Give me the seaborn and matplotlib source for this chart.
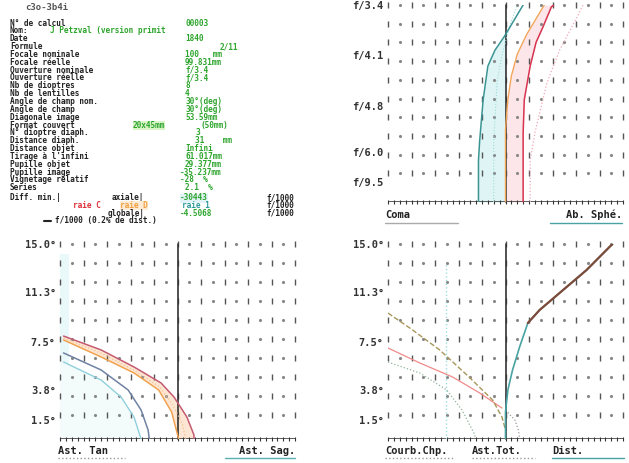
import numpy as np
import pandas as pd
import matplotlib
matplotlib.use("Agg")
import matplotlib.pyplot as plt
import seaborn as sns

sns.set_theme(style="white")
plt.rcParams['font.family'] = ['DejaVu Sans Mono', 'DejaVu Sans']
plt.rcParams['font.weight'] = 'bold'

# ------------------------------------------------------------------ data
title_code = "c3o-3b4i"
info_labels = ["N° de calcul", "Nom:", "Date", "Formule", "Focale nominale",
               "Focale réelle", "Ouverture nominale", "Ouverture réelle",
               "Nb de dioptres", "Nb de lentilles", "Angle de champ nom.",
               "Angle de champ", "Diagonale image", "Format couvert",
               "N° dioptre diaph.", "Distance diaph.", "Distance objet",
               "Tirage à l'infini", "Pupille objet", "Pupille image",
               "Vignetage relatif", "Series"]
info_values = ["00003", "J Petzval (version primit", "1840", "2/11",
               "100   mm", "99.831mm", "f/3.4", "f/3.4", "8", "4",
               "30°(deg)", "30°(deg)", "53.59mm", "20x45mm", "3",
               "31    mm", "Infini", "61.017mm", "29.377mm", "-35.237mm",
               "-28  %", "2.1  %"]
format_extra = "(50mm)"
diff_axiale = "-30443"
diff_globale = "-4.5068"
raies = ["raie C", "raie D", "raie 1"]
unit_label = "f/1000"
dist_note = "f/1000 (0.2% de dist.)"

coma_ticks = [1.0, 0.746, 0.487, 0.254, 0.10]
coma_ticklabels = ["f/3.4", "f/4.1", "f/4.8", "f/6.0", "f/9.5"]
field_ticks = [15.0, 11.3, 7.5, 3.8, 1.5]
field_ticklabels = ["15.0°", "11.3°", "7.5°", "3.8°", "1.5°"]

# coma / spherical panel (x: relative aberration, y: relative aperture)
coma_teal_x = [-0.23, -0.23, -0.22, -0.19, -0.15, -0.09, -0.01, 0.07, 0.15]
coma_teal_y = [0.0, 0.21, 0.31, 0.52, 0.69, 0.77, 0.84, 0.92, 1.0]
coma_cyan_x = [-0.10, -0.10, -0.09, -0.07, -0.02, 0.05, 0.10]
coma_cyan_y = [0.0, 0.30, 0.42, 0.62, 0.77, 0.92, 1.0]
sph_orange_x = [0.0, 0.0, 0.02, 0.05, 0.10, 0.18, 0.29, 0.33]
sph_orange_y = [0.0, 0.37, 0.52, 0.64, 0.75, 0.85, 0.96, 1.0]
sph_red_x = [0.15, 0.15, 0.16, 0.21, 0.26, 0.32, 0.39, 0.41]
sph_red_y = [0.0, 0.35, 0.52, 0.69, 0.81, 0.89, 0.99, 1.0]
sph_pink_x = [0.21, 0.21, 0.25, 0.35, 0.46, 0.61, 0.66]
sph_pink_y = [0.0, 0.21, 0.35, 0.60, 0.77, 0.94, 1.0]

# astigmatism panel (x: focus shift, y: field angle in degrees)
tan_red_x = [-0.97, -0.65, -0.37, -0.14, -0.03, 0.08, 0.14, 0.14]
tan_red_y = [7.92, 6.85, 5.54, 4.31, 3.23, 1.69, 0.31, 0.0]
tan_orange_x = [-0.97, -0.65, -0.37, -0.16, -0.05, -0.01, 0.01]
tan_orange_y = [7.62, 6.31, 5.08, 3.77, 2.08, 0.69, 0.0]
tan_lorange_x = [-0.97, -0.65, -0.37, -0.15, -0.04, 0.04, 0.07]
tan_lorange_y = [7.77, 6.60, 5.30, 4.00, 2.60, 1.20, 0.0]
sag_slate_x = [-0.97, -0.65, -0.42, -0.31, -0.25, -0.24]
sag_slate_y = [6.62, 5.31, 3.77, 2.23, 0.69, 0.0]
sag_cyan_x = [-0.97, -0.65, -0.48, -0.37, -0.31]
sag_cyan_y = [5.92, 4.54, 3.23, 1.69, 0.0]

# field curvature / total astigmatism / distortion panel
dist_teal_x = [0.0, 0.0, 0.02, 0.06, 0.12, 0.19, 0.29, 0.46, 0.69, 0.91]
dist_teal_y = [0.0, 2.08, 3.77, 5.31, 7.08, 8.92, 9.92, 11.23, 13.0, 15.0]
dist_brown_x = [0.19, 0.29, 0.46, 0.69, 0.91]
dist_brown_y = [8.92, 9.92, 11.23, 13.0, 15.0]
ast_red_x = [-1.0, -0.73, -0.45, -0.22, -0.03]
ast_red_y = [7.0, 5.85, 4.77, 3.54, 2.38]
ast_olive_x = [-1.0, -0.79, -0.56, -0.31, -0.11, -0.03, 0.0]
ast_olive_y = [9.69, 8.38, 6.85, 4.77, 3.0, 1.69, 0.69]
curv_green_x = [-1.0, -0.73, -0.50, -0.37, -0.26, -0.26]
curv_green_y = [5.92, 5.08, 3.77, 2.23, 0.31, 0.0]
ast_dot_x = [0.0, 0.08, 0.11, 0.12]
ast_dot_y = [2.23, 1.46, 0.69, 0.0]
curv_cyan_x = [-0.51, -0.51]
curv_cyan_y = [0.0, 13.5]

# ------------------------------------------------------------------ figure
W, H = 629, 463
fig = plt.figure(figsize=(W / 100, H / 100), dpi=100)
fig.patch.set_facecolor("white")


def px_axes(left, top, right, bottom):
    return fig.add_axes([left / W, (H - bottom) / H, (right - left) / W, (bottom - top) / H])


def style_panel(ax, ytop, rows, ticks, labels):
    ax.set_xlim(-1, 1)
    ax.set_ylim(0, ytop)
    for s in ax.spines.values():
        s.set_visible(False)
    ax.set_facecolor("none")
    ax.set_xticks([])
    ax.set_yticks(ticks)
    ax.set_yticklabels(labels, fontsize=7.5, fontweight="bold", color="#333333")
    ax.tick_params(axis="y", length=0, pad=3)
    ax.grid(False)
    cols = np.round(np.arange(-1, 1.0001, 0.1), 2)
    major, minor = cols[::2], cols[1::2]
    for r in rows:
        ax.plot(major, [r] * len(major), ls="none", marker="|", ms=4, mew=1.0,
                color="#555555", clip_on=False, zorder=1)
        ax.plot(minor, [r] * len(minor), ls="none", marker=".", ms=2.5,
                color="#888888", clip_on=False, zorder=1)
    ax.axhline(0, color="#333333", lw=1.1, zorder=3)
    bt = np.arange(-1, 1.0001, 0.05)
    ax.plot(bt, np.zeros_like(bt), ls="none", marker="|", ms=2.5, mew=0.8,
            color="#333333", clip_on=False, zorder=3)
    ax.plot([0, 0], [0, ytop], color="#333333", lw=1.2, zorder=4, clip_on=False)


def curve(ax, xs, ys, color, lw=1.0, ls="-", z=5):
    df = pd.DataFrame({"x": xs, "y": ys})
    sns.lineplot(data=df, x="x", y="y", ax=ax, sort=False, estimator=None,
                 color=color, lw=lw, ls=ls, zorder=z, legend=False)
    ax.set_xlabel("")
    ax.set_ylabel("")


# --- coma panel
axc = px_axes(388, 5, 623, 202)
rows_c = [1.0 - 0.095 * i for i in range(10)]
yy = np.linspace(0, 0.84, 60)
axc.fill_betweenx(yy, np.interp(yy, coma_teal_y, coma_teal_x), 0, color="#dff5f5", lw=0, zorder=0)
yy2 = np.linspace(0, 1.0, 80)
axc.fill_betweenx(yy2, np.interp(yy2, sph_orange_y, sph_orange_x),
                  np.interp(yy2, sph_red_y, sph_red_x), color="#fde6ea", lw=0, zorder=0)
curve(axc, coma_cyan_x, coma_cyan_y, "#9fdada", lw=0.8, ls=":")
curve(axc, sph_pink_x, sph_pink_y, "#f2a6b6", lw=0.9, ls=":")
curve(axc, coma_teal_x, coma_teal_y, "#3b9494", lw=1.1)
curve(axc, sph_orange_x, sph_orange_y, "#f1a559", lw=1.0)
curve(axc, sph_red_x, sph_red_y, "#d8344f", lw=1.1)
style_panel(axc, 1.0, rows_c, coma_ticks, coma_ticklabels)

# --- astigmatism panel
rows_f = [15 - 1.46 * i for i in range(10)]
axa = px_axes(60, 244, 295, 439)
axa.axvspan(-1, -0.92, ymin=0, ymax=0.95, color="#e9f8f8", lw=0, zorder=0)
axa.fill(np.r_[tan_red_x, tan_orange_x[::-1]], np.r_[tan_red_y, tan_orange_y[::-1]],
         color="#fde7d4", lw=0, zorder=0)
axa.fill(np.r_[sag_cyan_x, [-1.0, -1.0]], np.r_[sag_cyan_y, [0.0, sag_cyan_y[0]]],
         color="#f3fbfb", lw=0, zorder=0)
curve(axa, sag_cyan_x, sag_cyan_y, "#8fd0dc", lw=1.0)
curve(axa, sag_slate_x, sag_slate_y, "#6f82a3", lw=1.1)
curve(axa, tan_lorange_x, tan_lorange_y, "#f6c08a", lw=0.9, ls=":")
curve(axa, tan_orange_x, tan_orange_y, "#f0a24f", lw=1.1)
curve(axa, tan_red_x, tan_red_y, "#c45a72", lw=1.1)
style_panel(axa, 15.0, rows_f, field_ticks, field_ticklabels)

# --- field curvature / distortion panel
axd = px_axes(388, 244, 623, 439)
curve(axd, curv_cyan_x, curv_cyan_y, "#9adede", lw=1.0, ls=":")
curve(axd, curv_green_x, curv_green_y, "#8fb59a", lw=0.9, ls=":")
curve(axd, ast_red_x, ast_red_y, "#f08a8a", lw=0.9)
curve(axd, ast_olive_x, ast_olive_y, "#a8975a", lw=1.0, ls="--")
curve(axd, ast_dot_x, ast_dot_y, "#999999", lw=0.9, ls=":")
curve(axd, dist_teal_x, dist_teal_y, "#4aa3a3", lw=1.2)
curve(axd, dist_brown_x, dist_brown_y, "#7d4a3a", lw=1.6, z=6)
style_panel(axd, 15.0, rows_f, field_ticks, field_ticklabels)

# ------------------------------------------------------------------ overlay text
ov = fig.add_axes([0, 0, 1, 1])
ov.set_xlim(0, W)
ov.set_ylim(H, 0)
ov.axis("off")
ov.patch.set_alpha(0)

FS = 5.6
BLACK = "#222222"
GREEN = "#2ea52e"


def t(x, y, s, color=BLACK, fs=FS, **kw):
    ov.text(x, y, s, color=color, fontsize=fs, fontweight="bold", va="center",
            ha=kw.pop("ha", "left"), **kw)


t(25, 7, title_code, color="#555555", fs=6.5)
value_x = [185, 50, 185, 220, 185, 185, 185, 185, 185, 185, 185, 185, 185,
           133, 195, 195, 185, 185, 185, 180, 180, 185]
for i, (lab, val) in enumerate(zip(info_labels, info_values)):
    y = 23 + i * 7.85
    t(10, y, lab)
    if i == 13:
        t(value_x[i], y, val, color=GREEN,
          bbox=dict(boxstyle="square,pad=0.0", fc="#d9f5c8", ec="none"))
        t(200, y, format_extra, color=GREEN)
    else:
        t(value_x[i], y, val, color=GREEN)

t(10, 198, "Diff. min.|")
t(112, 198, "axiale|")
t(180, 198, diff_axiale, color=GREEN,
  bbox=dict(boxstyle="square,pad=0.0", fc="#e2f3f7", ec="none"))
t(73, 205.5, raies[0], color="#e0303a")
t(120, 205.5, raies[1], color="#f0a040",
  bbox=dict(boxstyle="square,pad=0.0", fc="#fdebd6", ec="none"))
t(182, 205.5, raies[2], color="#2f9b9b")
t(108, 213, "globale|")
t(180, 213, diff_globale, color=GREEN)
for yy_ in (198, 205.5, 213):
    t(266, yy_, unit_label)
ov.plot([44, 51], [221, 221], color=BLACK, lw=1.5)
t(55, 221, dist_note)

# captions under panels
t(385, 215, "Coma", fs=7.5)
ov.plot([385, 458], [223, 223], color="#aaaaaa", lw=1)
t(622, 215, "Ab. Sphé.", ha="right", fs=7.5)
ov.plot([550, 622], [223, 223], color="#4aa3a3", lw=1)

t(58, 451, "Ast. Tan", fs=7.5)
ov.plot([58, 125], [458, 458], color="#999999", lw=1, ls=":")
t(295, 451, "Ast. Sag.", ha="right", fs=7.5)
ov.plot([225, 295], [458, 458], color="#5ab0b0", lw=1)

t(385, 451, "Courb.Chp.", fs=7.5)
ov.plot([385, 455], [458, 458], color="#999999", lw=1, ls=":")
t(472, 451, "Ast.Tot.", fs=7.5)
ov.plot([472, 535], [458, 458], color="#999999", lw=1, ls=":")
t(552, 451, "Dist.", fs=7.5)
ov.plot([552, 624], [458, 458], color="#4aa3a3", lw=1)

fig.savefig("out.png", dpi=100, facecolor="white")
